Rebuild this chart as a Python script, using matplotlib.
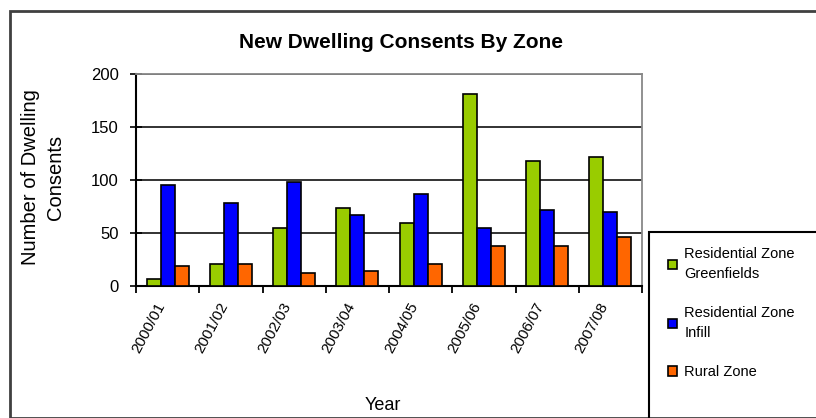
import matplotlib.pyplot as plt
import numpy as np
from matplotlib.patches import Rectangle

plt.rcParams['font.family'] = ['Liberation Sans', 'DejaVu Sans']

years = ['2000/01', '2001/02', '2002/03', '2003/04',
         '2004/05', '2005/06', '2006/07', '2007/08']
greenfields = [7, 21, 55, 74, 59, 181, 118, 122]
infill = [95, 78, 98, 67, 87, 55, 72, 70]
rural = [19, 21, 12, 14, 21, 38, 38, 46]

series_names = ['Residential Zone\nGreenfields', 'Residential Zone\nInfill', 'Rural Zone']
colors = ['#99CC00', '#0000FF', '#FF6600']

fig = plt.figure(figsize=(8.16, 4.18), dpi=100)
W, H = 816, 418

# chart border and legend box, in pixel units of the figure
fig.patches.append(Rectangle((10 / W, 0), 1.0, 1 - 11 / H, transform=fig.transFigure,
                             fill=False, edgecolor='#404040', linewidth=2.0, zorder=0))
fig.patches.append(Rectangle((649 / W, -0.02), 1.0, 1 - 232 / H + 0.02,
                             transform=fig.transFigure, fill=False,
                             edgecolor='black', linewidth=1.5, zorder=0))

ax = fig.add_axes([136 / W, 1 - 286 / H, (642 - 136) / W, (286 - 74) / H])

x = np.arange(len(years))
w = 0.222
bars = []
for i, (vals, c) in enumerate(zip([greenfields, infill, rural], colors)):
    b = ax.bar(x + (i - 1) * w, vals, width=w, color=c, edgecolor='black',
               linewidth=1.2, zorder=3)
    bars.append(b)

ax.set_xlim(-0.5, len(years) - 0.5)
ax.set_ylim(0, 200)
ax.set_yticks([0, 50, 100, 150, 200])
ax.yaxis.grid(True, color='#222222', linewidth=1.3, zorder=0)
ax.set_axisbelow(True)

ax.set_xticks(np.arange(-0.5, len(years), 1.0))
ax.set_xticklabels([])
ax.set_xticks(x, minor=True)
ax.set_xticklabels(years, minor=True, rotation=62, ha='right', va='top',
                   fontsize=11)
ax.tick_params(axis='x', which='major', direction='out', length=5, width=1.3)
ax.tick_params(axis='x', which='minor', length=0, pad=10)
ax.tick_params(axis='y', direction='inout', length=9, width=1.2, labelsize=12, pad=8)

for s in ['left', 'bottom']:
    ax.spines[s].set_linewidth(1.5)
    ax.spines[s].set_color('black')
for s in ['top', 'right']:
    ax.spines[s].set_linewidth(1.3)
    ax.spines[s].set_color('#888888')

fig.text(43 / W, 1 - 177 / H, 'Number of Dwelling\nConsents', fontsize=14.5,
         rotation=90, ha='center', va='center', linespacing=1.35,
         multialignment='center')
fig.text(383 / W, 1 - 405 / H, 'Year', fontsize=13, ha='center', va='center')

fig.text(401 / W, 1 - 42 / H, 'New Dwelling Consents By Zone', fontsize=15,
         fontweight='bold', ha='center', va='center')

leg = fig.legend(bars, series_names, loc='upper left',
                 bbox_to_anchor=(655 / W, 1 - 234 / H), frameon=False,
                 fontsize=10.5, handlelength=0.6, handleheight=0.6,
                 handletextpad=0.5, labelspacing=1.75)
for t in leg.get_texts():
    t.set_linespacing(1.5)

fig.savefig('out.png', dpi=100)
